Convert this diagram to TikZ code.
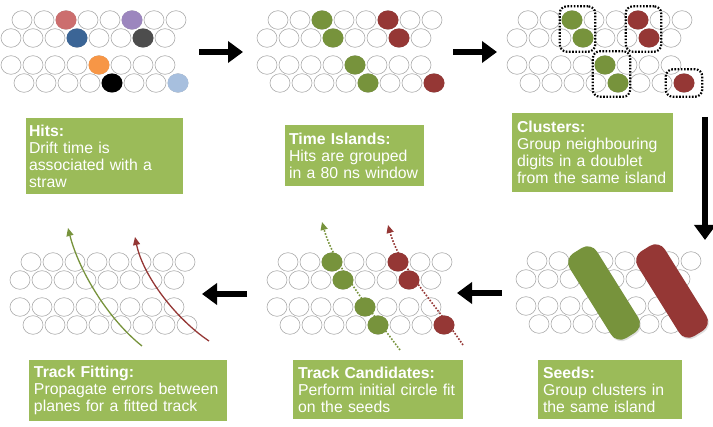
\documentclass[tikz,border=0pt]{standalone}
\usepackage{fontspec}
\setmainfont{Liberation Sans}
\usetikzlibrary{arrows.meta,shapes.geometric,shadows,fit}
\definecolor{boxgreen}{HTML}{9BBB59}
\definecolor{trkgreen}{HTML}{77933C}
\definecolor{trkred}{HTML}{953735}
\definecolor{hitpink}{HTML}{CC6E6E}
\definecolor{hitpurple}{HTML}{9C86BE}
\definecolor{hitblue}{HTML}{3B6596}
\definecolor{hitgray}{HTML}{4D4D4D}
\definecolor{hitorange}{HTML}{F79646}
\definecolor{hitsky}{HTML}{A7BFDE}
\definecolor{strawgray}{HTML}{ABABAB}
\tikzset{
  straw/.style={draw=strawgray, line width=0.6pt},
  hit/.style={ellipse, minimum width=21pt, minimum height=19pt, inner sep=0pt},
  infobox/.style={fill=boxgreen, draw=white, line width=1.5pt, text=white, align=left,
    inner xsep=6pt, font=\fontsize{15.8}{17}\selectfont,
    drop shadow={shadow xshift=0.8pt, shadow yshift=-1.5pt, opacity=0.3}},
  clusterring/.style={draw=black, line width=2.2pt, dash pattern=on 1.6pt off 1.6pt,
    rounded corners=7pt, inner xsep=1.5pt, inner ysep=4pt},
  seedbar/.style={rounded corners=11pt, minimum width=32pt, minimum height=100pt,
    rotate=32, inner sep=0pt,
    drop shadow={shadow xshift=1pt, shadow yshift=-1.5pt, opacity=0.25}},
  flowarrow/.style={line width=6.5pt, -{Triangle[width=21pt,length=15pt]}},
  trackfit/.style={line width=1.3pt, -{Triangle[width=7pt,length=8pt]}},
  trackcand/.style={line width=1.6pt, dash pattern=on 1.6pt off 1.6pt,
    -{Triangle[width=7pt,length=8pt]}},
}
% one plane of four straw layers, drawn at the scope origin
\newcommand{\strawplane}{%
  \foreach \dx/\dy in {11/0, 0/18, 0/45, 13/63}
    \foreach \col in {0,...,7}
      \draw[straw] (\dx+22*\col, \dy) ellipse [x radius=10, y radius=9.3];
}

\begin{document}
\begin{tikzpicture}[x=1pt, y=-1pt]
  \useasboundingbox (0,0) rectangle (713,427);

  % Hits
  \begin{scope}[shift={(11,20)}]
    \strawplane
    \node[hit, fill=hitpink] (hit-a) at (55,0) {};
    \node[hit, fill=hitpurple] (hit-b) at (121,0) {};
    \node[hit, fill=hitblue] (hit-c) at (66,18) {};
    \node[hit, fill=hitgray] (hit-d) at (132,18) {};
    \node[hit, fill=hitorange] (hit-e) at (88,45) {};
    \node[hit, fill=black] (hit-f) at (101,63) {};
    \node[hit, fill=hitsky] (hit-g) at (167,63) {};
  \end{scope}

  % Time islands
  \begin{scope}[shift={(267,20)}]
    \strawplane
    \node[hit, fill=trkgreen] (isl-g1) at (55,0) {};
    \node[hit, fill=trkgreen] (isl-g2) at (66,18) {};
    \node[hit, fill=trkgreen] (isl-g3) at (88,45) {};
    \node[hit, fill=trkgreen] (isl-g4) at (101,63) {};
    \node[hit, fill=trkred] (isl-r1) at (121,0) {};
    \node[hit, fill=trkred] (isl-r2) at (132,18) {};
    \node[hit, fill=trkred] (isl-r3) at (167,63) {};
  \end{scope}

  % Clusters
  \begin{scope}[shift={(517,20)}]
    \strawplane
    \node[hit, fill=trkgreen] (cl-g1) at (55,0) {};
    \node[hit, fill=trkgreen] (cl-g2) at (66,18) {};
    \node[hit, fill=trkgreen] (cl-g3) at (88,45) {};
    \node[hit, fill=trkgreen] (cl-g4) at (101,63) {};
    \node[hit, fill=trkred] (cl-r1) at (121,0) {};
    \node[hit, fill=trkred] (cl-r2) at (132,18) {};
    \node[hit, fill=trkred] (cl-r3) at (167,63) {};
  \end{scope}
  \node[clusterring, fit=(cl-g1)(cl-g2)] (ring-1) {};
  \node[clusterring, fit=(cl-r1)(cl-r2)] (ring-2) {};
  \node[clusterring, fit=(cl-g3)(cl-g4)] (ring-3) {};
  \node[clusterring, fit=(cl-r3), inner xsep=7.5pt] (ring-4) {};

  % Track fitting
  \begin{scope}[shift={(20,262)}]
    \strawplane
  \end{scope}
  \coordinate (fit-g0) at (142,346);
  \coordinate (fit-g1) at (68,228);
  \coordinate (fit-r0) at (209,341);
  \coordinate (fit-r1) at (135,237);
  \draw[trackfit, trkgreen] (fit-g0) .. controls (108,319) and (79,271) .. (fit-g1);
  \draw[trackfit, trkred] (fit-r0) .. controls (176,319) and (143,276) .. (fit-r1);

  % Track candidates
  \begin{scope}[shift={(277,262)}]
    \strawplane
    \node[hit, fill=trkgreen] (cand-g1) at (55,0) {};
    \node[hit, fill=trkgreen] (cand-g2) at (66,18) {};
    \node[hit, fill=trkgreen] (cand-g3) at (88,45) {};
    \node[hit, fill=trkgreen] (cand-g4) at (101,63) {};
    \node[hit, fill=trkred] (cand-r1) at (121,0) {};
    \node[hit, fill=trkred] (cand-r2) at (132,18) {};
    \node[hit, fill=trkred] (cand-r3) at (167,63) {};
  \end{scope}
  \coordinate (cand-g0) at (400,350);
  \coordinate (cand-gt) at (322,222);
  \coordinate (cand-r0) at (463,345);
  \coordinate (cand-rt) at (388,225);
  \draw[trackcand, trkgreen] (cand-g0) .. controls (370,310) and (334,265) .. (cand-gt);
  \draw[trackcand, trkred] (cand-r0) .. controls (436,305) and (400,268) .. (cand-rt);

  % Seeds
  \begin{scope}[shift={(526,261)}]
    \strawplane
  \end{scope}
  \node[seedbar, fill=trkgreen] (seed-g) at (604,293) {};
  \node[seedbar, fill=trkred] (seed-r) at (672,291) {};

  % text boxes
  \node[infobox, inner xsep=4pt, text width=151pt, minimum height=78pt] (hitsbox) at (104.5,156)
    {\textbf{Hits:}\\Drift time is\\associated with a\\straw};
  \node[infobox, inner xsep=5pt, text width=131pt, minimum height=63pt] (islandbox) at (354.5,155.5)
    {\textbf{Time Islands:}\\Hits are grouped\\in a 80 ns window};
  \node[infobox, text width=151pt, minimum height=81pt] (clusterbox) at (592.5,152.5)
    {\textbf{Clusters:}\\Group neighbouring\\digits in a doublet\\from the same island};
  \node[infobox, text width=188pt, minimum height=63pt] (fitbox) at (128,390.5)
    {\textbf{Track Fitting:}\\Propagate errors between\\planes for a fitted track};
  \node[infobox, text width=160pt, minimum height=61pt] (candbox) at (378,389.5)
    {\textbf{Track Candidates:}\\Perform initial circle fit\\on the seeds};
  \node[infobox, text width=134pt, minimum height=61pt] (seedbox) at (610,389.5)
    {\textbf{Seeds:}\\Group clusters in\\the same island};

  % flow arrows
  \coordinate (step1-s) at (199,52);
  \coordinate (step1-e) at (243,52);
  \coordinate (step2-s) at (453,52);
  \coordinate (step2-e) at (497,52);
  \coordinate (step3-s) at (705,117);
  \coordinate (step3-e) at (705,240);
  \coordinate (step4-s) at (502,293);
  \coordinate (step4-e) at (457,293);
  \coordinate (step5-s) at (247,294);
  \coordinate (step5-e) at (202,294);
  \foreach \i in {1,...,5}
    \draw[flowarrow] (step\i-s) -- (step\i-e);
\end{tikzpicture}
\end{document}
